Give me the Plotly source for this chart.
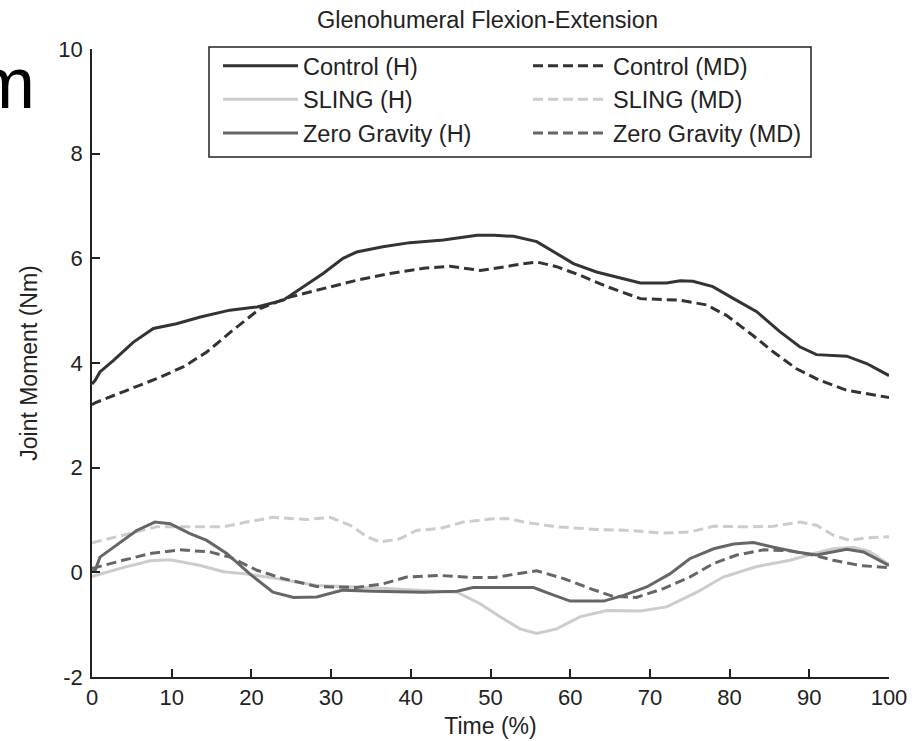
import plotly.graph_objects as go

# ---- data ----
ctrl_h_t = [0, 0.4, 1.0, 2.7, 5.2, 7.7, 10.6, 13.6, 17.3, 20.7, 24.0, 26.5, 29.0, 31.5, 33.2, 36.5, 39.9, 44.1, 48.3, 50.5, 52.9, 55.8, 58.3, 60.4, 63.3, 66.7, 68.8, 72.1, 73.8, 75.4, 77.9, 80.5, 83.4, 86.3, 88.8, 90.9, 94.7, 97.2, 100]
ctrl_h_v = [3.60, 3.67, 3.83, 4.05, 4.40, 4.66, 4.75, 4.88, 5.01, 5.07, 5.20, 5.46, 5.71, 6.00, 6.12, 6.22, 6.30, 6.35, 6.44, 6.44, 6.42, 6.32, 6.09, 5.90, 5.74, 5.61, 5.53, 5.53, 5.57, 5.56, 5.46, 5.23, 4.98, 4.60, 4.31, 4.16, 4.13, 3.99, 3.76]

ctrl_md_t = [0, 0.4, 3.9, 8.1, 11.5, 14.4, 17.7, 21.1, 24.8, 29.0, 33.2, 37.4, 41.6, 44.9, 48.7, 52.0, 52.9, 55.8, 58.3, 61.2, 64.6, 68.8, 73.8, 77.1, 79.6, 82.9, 85.5, 88.4, 91.3, 94.7, 100]
ctrl_md_v = [3.20, 3.24, 3.45, 3.70, 3.93, 4.21, 4.63, 5.04, 5.26, 5.42, 5.58, 5.71, 5.81, 5.85, 5.77, 5.84, 5.87, 5.93, 5.84, 5.68, 5.46, 5.23, 5.20, 5.11, 4.91, 4.53, 4.21, 3.89, 3.67, 3.48, 3.34]

sling_h_t = [0, 0.4, 3.9, 7.3, 9.8, 13.6, 16.5, 19.4, 23.2, 28.2, 33.2, 39.5, 45.8, 48.7, 51.2, 53.7, 55.8, 58.3, 61.2, 64.6, 68.8, 72.1, 75.9, 79.2, 83.4, 87.6, 90.1, 93.0, 95.5, 97.5, 100]
sling_h_v = [-0.08, -0.06, 0.09, 0.22, 0.24, 0.13, 0.01, -0.03, -0.12, -0.25, -0.28, -0.33, -0.38, -0.60, -0.85, -1.08, -1.17, -1.08, -0.85, -0.73, -0.74, -0.66, -0.38, -0.09, 0.11, 0.23, 0.34, 0.45, 0.48, 0.40, 0.15]

sling_md_t = [0, 0.4, 3.9, 8.1, 12.3, 16.5, 19.4, 22.7, 27.0, 29.9, 32.4, 34.5, 36.1, 38.6, 40.7, 43.7, 46.6, 50.0, 52.0, 55.0, 58.3, 63.3, 67.5, 71.7, 75.0, 78.0, 82.2, 85.5, 88.8, 90.9, 93.0, 95.1, 97.2, 100]
sling_md_v = [0.56, 0.58, 0.71, 0.87, 0.87, 0.87, 0.96, 1.05, 1.01, 1.05, 0.90, 0.68, 0.58, 0.64, 0.80, 0.84, 0.96, 1.02, 1.03, 0.94, 0.87, 0.82, 0.80, 0.75, 0.77, 0.88, 0.87, 0.88, 0.96, 0.90, 0.71, 0.61, 0.66, 0.68]

zg_h_t = [0, 0.4, 1.0, 3.1, 5.6, 7.9, 9.8, 12.3, 14.4, 16.9, 19.8, 22.7, 25.3, 28.2, 31.5, 35.3, 41.6, 45.8, 47.8, 52.4, 55.4, 57.5, 60.0, 64.2, 66.7, 69.6, 72.5, 75.0, 78.0, 80.5, 83.0, 85.5, 88.4, 90.9, 94.7, 96.8, 100]
zg_h_v = [0.02, 0.04, 0.29, 0.52, 0.80, 0.96, 0.93, 0.74, 0.61, 0.36, -0.03, -0.38, -0.48, -0.47, -0.34, -0.36, -0.38, -0.36, -0.29, -0.29, -0.29, -0.41, -0.55, -0.55, -0.44, -0.28, -0.03, 0.26, 0.45, 0.54, 0.57, 0.48, 0.39, 0.33, 0.44, 0.39, 0.13]

zg_md_t = [0, 0.4, 3.9, 7.3, 11.0, 14.8, 17.3, 20.7, 24.0, 28.2, 33.2, 36.5, 39.5, 43.7, 47.8, 50.5, 52.9, 55.8, 59.2, 62.5, 65.4, 68.3, 71.7, 75.0, 78.0, 80.9, 84.3, 87.6, 90.5, 93.0, 96.4, 100]
zg_md_v = [0.08, 0.09, 0.23, 0.36, 0.43, 0.39, 0.29, 0.04, -0.12, -0.27, -0.29, -0.22, -0.09, -0.06, -0.10, -0.10, -0.04, 0.03, -0.12, -0.31, -0.46, -0.48, -0.31, -0.09, 0.17, 0.33, 0.43, 0.41, 0.33, 0.23, 0.13, 0.09]

x_ticks = [0, 10, 20, 30, 40, 50, 60, 70, 80, 90, 100]
x_tick_text = ["0", "10", "20", "30", "40", "50", "60", "70", "80", "90", "100"]
y_ticks = [-2, 0, 2, 4, 6, 8, 10]
y_tick_text = ["-2", "0", "2", "4", "6", "8", "10"]

series = [
    ("Control (H)", ctrl_h_t, ctrl_h_v, "#333333", "solid"),
    ("Control (MD)", ctrl_md_t, ctrl_md_v, "#333333", "10px,5px"),
    ("SLING (H)", sling_h_t, sling_h_v, "#cccccc", "solid"),
    ("SLING (MD)", sling_md_t, sling_md_v, "#cccccc", "10px,5px"),
    ("Zero Gravity (H)", zg_h_t, zg_h_v, "#666666", "solid"),
    ("Zero Gravity (MD)", zg_md_t, zg_md_v, "#666666", "10px,5px"),
]

FONT = "Liberation Sans, Arial, sans-serif"

# plot area in pixels
L, R, T, B = 92, 23, 49, 64
PW, PH = 912 - L - R, 741 - T - B


def px_x(p):
    return (p - L) / PW


def px_y(p):
    return (741 - B - p) / PH


fig = go.Figure()
for name, t, v, col, dash in series:
    fig.add_trace(go.Scatter(x=t, y=v, name=name, mode="lines",
                             line=dict(color=col, width=3, dash=dash)))

axis_common = dict(showline=True, linecolor="#222222", linewidth=1.5, ticks="inside",
                   ticklen=8, tickwidth=1.5, tickcolor="#222222", showgrid=False,
                   zeroline=False, mirror=False, automargin=False,
                   tickfont=dict(family=FONT, size=22, color="#222222"))

fig.update_layout(
    width=912, height=741,
    margin=dict(l=L, r=R, t=T, b=B),
    paper_bgcolor="white", plot_bgcolor="white",
    font=dict(family=FONT, size=23, color="#222222"),
    title=dict(text="Glenohumeral Flexion-Extension", x=487.5 / 912, xanchor="center",
               yref="container", y=1 - 20 / 741, yanchor="middle",
               font=dict(family=FONT, size=23.5, color="#222222")),
    xaxis=dict(range=[0, 100], tickvals=x_ticks, ticktext=x_tick_text,
               title=dict(text="Time (%)", standoff=9, font=dict(family=FONT, size=23)),
               **axis_common),
    yaxis=dict(range=[-2, 10], tickvals=y_ticks, ticktext=y_tick_text,
               ticklabelstandoff=3,
               title=dict(text="Joint Moment (Nm)", standoff=14, font=dict(family=FONT, size=23)),
               **axis_common),
    legend=dict(orientation="h", x=px_x(218), xanchor="left", y=px_y(44), yanchor="top",
                borderwidth=0, bgcolor="rgba(0,0,0,0)",
                itemwidth=75, entrywidth=220, tracegroupgap=0,
                font=dict(family=FONT, size=23.5, color="#222222")),
    showlegend=True,
    shapes=[dict(type="rect", xref="paper", yref="paper",
                 x0=px_x(209), x1=px_x(811), y0=px_y(157), y1=px_y(47),
                 line=dict(color="#222222", width=1.5), fillcolor="white", layer="below")],
)

fig.add_annotation(text="m", xref="paper", yref="paper", x=px_x(37), y=px_y(125),
                   xanchor="right", yanchor="bottom", showarrow=False,
                   font=dict(family=FONT, size=72, color="black"))

fig.write_html("out.html")
